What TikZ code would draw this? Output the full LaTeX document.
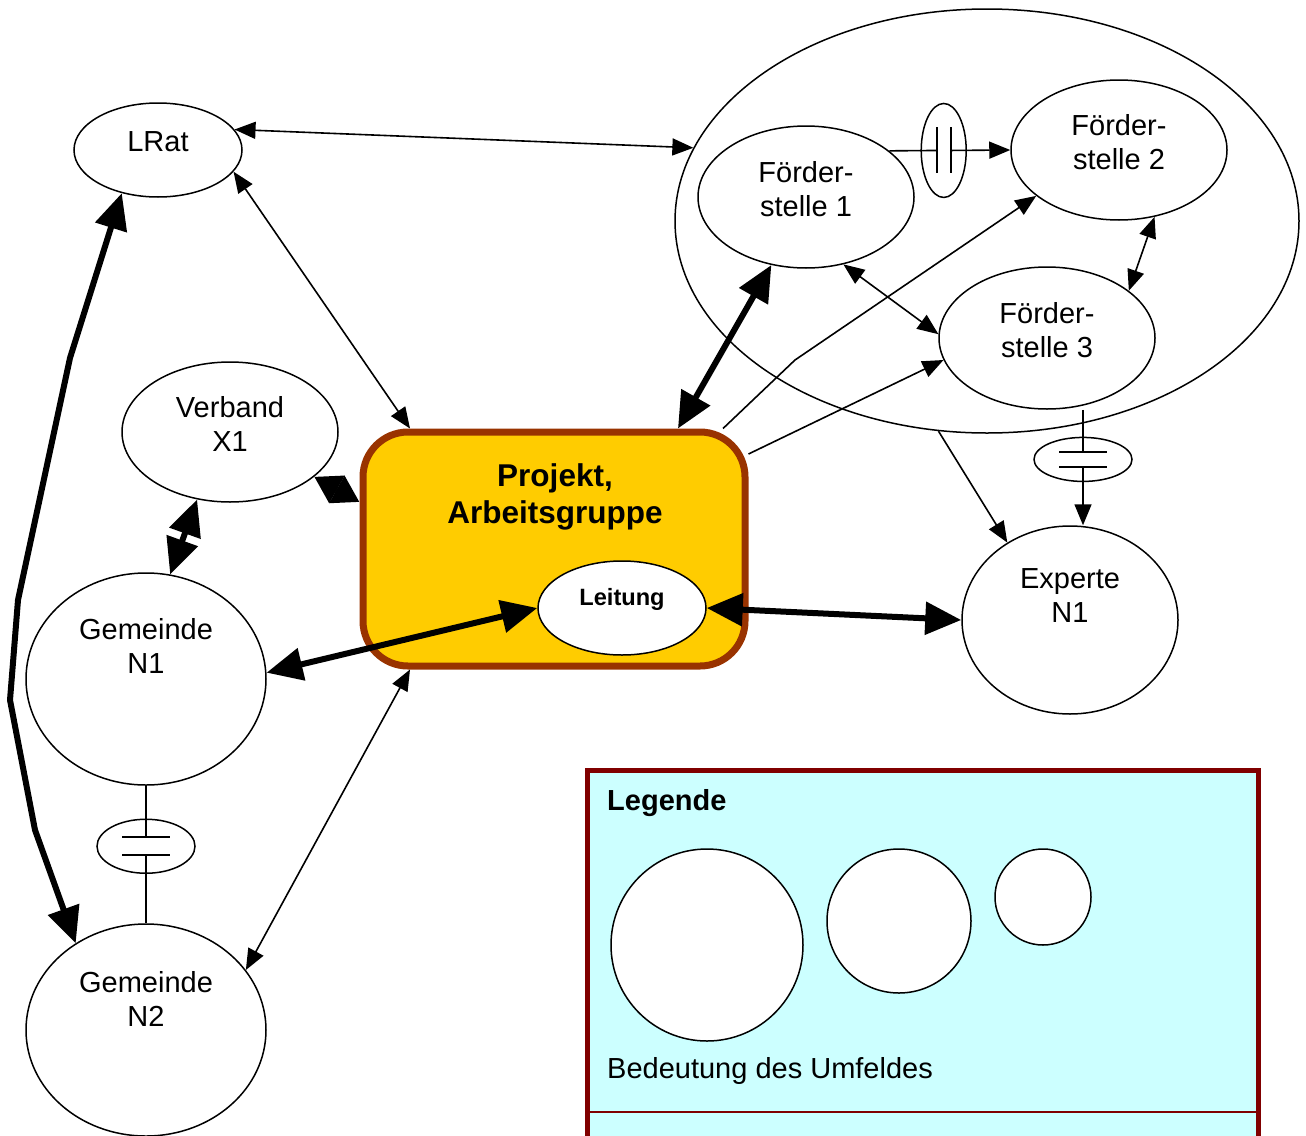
\documentclass[tikz,border=0pt]{standalone}
\usepackage{fontspec}
\setmainfont{Liberation Sans}
\usetikzlibrary{shapes.geometric,arrows.meta,calc}
\definecolor{projfill}{HTML}{FFCC00}
\definecolor{projdraw}{HTML}{993300}
\definecolor{legfill}{HTML}{CCFFFF}
\definecolor{legdraw}{HTML}{800000}
\tikzset{
 tA/.tip={Triangle[length=21pt,width=17pt]},
 tB/.tip={Triangle[length=36pt,width=32pt]},
 tC/.tip={Triangle[length=26pt,width=30pt]},
 ell/.style={ellipse, draw, line width=1.5pt, inner sep=0pt},
 lbl/.style={align=center, font=\fontsize{29}{34}\selectfont, inner sep=0pt},
 lnk/.style={line width=1.6pt},
 fat/.style={line width=6pt},
 cbar/.style={line width=2pt},
}
\begin{document}
\begin{tikzpicture}[x=1pt,y=-1pt]
\useasboundingbox (0,0) rectangle (1306,1135);
% legend
\node[draw=legdraw, line width=5pt, fill=legfill, minimum width=671pt, minimum height=400pt, anchor=north west, inner sep=0pt] (leg) at (585,768) {};
\draw[legdraw, line width=2pt] ([yshift=-344pt]leg.north west) -- ([yshift=-344pt]leg.north east);
\node[anchor=base west, font=\fontsize{29}{34}\selectfont\bfseries, inner sep=0pt] (legt) at ([xshift=22pt,yshift=-42pt]leg.north west) {Legende};
\node[anchor=base west, font=\fontsize{29}{34}\selectfont, inner sep=0pt] (legb) at ([xshift=22pt,yshift=-310pt]leg.north west) {Bedeutung des Umfeldes};
\node[circle, draw, line width=1.5pt, fill=white, minimum size=192pt, inner sep=0pt] (c1) at (707,945) {};
\node[circle, draw, line width=1.5pt, fill=white, minimum size=144pt, inner sep=0pt] (c2) at (899,921) {};
\node[circle, draw, line width=1.5pt, fill=white, minimum size=96pt, inner sep=0pt] (c3) at (1043,897) {};
% nodes
\node[ell, minimum width=624pt, minimum height=424pt] (big) at (987,221) {};
\node[ell, minimum width=168pt, minimum height=94pt] (lrat) at (158,150) {};
\node[lbl] (lratt) at ([yshift=8pt]lrat.center) {LRat};
\node[ell, minimum width=216pt, minimum height=142pt] (f1) at (806,197) {};
\node[lbl] (f1t) at ([yshift=8pt]f1.center) {Förder-\\stelle 1};
\node[ell, minimum width=216pt, minimum height=140pt] (f2) at (1119,150) {};
\node[lbl] (f2t) at ([yshift=8pt]f2.center) {Förder-\\stelle 2};
\node[ell, minimum width=216pt, minimum height=142pt] (f3) at (1047,338) {};
\node[lbl] (f3t) at ([yshift=8pt]f3.center) {Förder-\\stelle 3};
\node[ell, minimum width=216pt, minimum height=140pt] (verb) at (230,432) {};
\node[lbl] (verbt) at ([yshift=8pt]verb.center) {Verband\\X1};
\node[ell, minimum width=240pt, minimum height=212pt] (gem1) at (146,679) {};
\node[lbl] (gem1t) at ([yshift=33pt]gem1.center) {Gemeinde\\N1};
\node[ell, minimum width=240pt, minimum height=212pt] (gem2) at (146,1030) {};
\node[lbl] (gem2t) at ([yshift=31pt]gem2.center) {Gemeinde\\N2};
\node[ell, minimum width=216pt, minimum height=188pt] (exp) at (1070,620) {};
\node[lbl] (expt) at ([yshift=24pt]exp.center) {Experte\\N1};
\node[draw=projdraw, fill=projfill, line width=7pt, rounded corners=45pt, minimum width=382pt, minimum height=234pt, inner sep=0pt] (proj) at (554,549) {};
\node[align=center, font=\fontsize{31.5}{37}\selectfont\bfseries, inner sep=0pt] (projt) at ([xshift=1pt,yshift=52.5pt]proj.center) {Projekt,\\Arbeitsgruppe};
\node[ell, fill=white, minimum width=168pt, minimum height=94pt] (leit) at (622,608) {};
\node[font=\fontsize{23.6}{28}\selectfont\bfseries, inner sep=0pt] (leitt) at ([yshift=8.5pt]leit.center) {Leitung};
% conflict symbols
\node[ell, minimum width=45pt, minimum height=94pt] (k1) at ($(f1.29)!0.45!(f2.west)$) {};
\draw[lnk] (f1.29) -- ([xshift=-7pt]k1.center);
\draw[lnk,-tA] ([xshift=7pt]k1.center) -- (f2.west);
\draw[cbar] ([xshift=-7pt,yshift=23pt]k1.center) -- ([xshift=-7pt,yshift=-23pt]k1.center);
\draw[cbar] ([xshift=7pt,yshift=23pt]k1.center) -- ([xshift=7pt,yshift=-23pt]k1.center);
\node[ell, minimum width=98pt, minimum height=44pt] (k2) at ($([xshift=36pt]f3.south)!0.43!([xshift=13pt]exp.north)$) {};
\draw[lnk] ([xshift=36pt]f3.south) -- ([yshift=7.5pt]k2.center);
\draw[lnk,-tA] ([yshift=-7.5pt]k2.center) -- ([xshift=13pt]exp.north);
\draw[cbar] ([xshift=-24pt,yshift=7.5pt]k2.center) -- ([xshift=24pt,yshift=7.5pt]k2.center);
\draw[cbar] ([xshift=-24pt,yshift=-7.5pt]k2.center) -- ([xshift=24pt,yshift=-7.5pt]k2.center);
\node[ell, minimum width=98pt, minimum height=54pt] (k3) at ($(gem1.south)!0.44!(gem2.north)$) {};
\draw[lnk] (gem1.south) -- ([yshift=9pt]k3.center);
\draw[lnk] ([yshift=-9pt]k3.center) -- (gem2.north);
\draw[cbar] ([xshift=-24pt,yshift=9pt]k3.center) -- ([xshift=24pt,yshift=9pt]k3.center);
\draw[cbar] ([xshift=-24pt,yshift=-9pt]k3.center) -- ([xshift=24pt,yshift=-9pt]k3.center);
% connectors
\draw[lnk,tA-tA] (lrat.15) -- (big.166);
\draw[lnk,tA-tA] (lrat.-16) -- ([xshift=-144pt]proj.north);
\draw[fat,tB-tB,line join=round] (lrat.230) -- (70,358) -- (18,600) -- (10,700) -- (35,830) -- (gem2.129);
\draw[fat,tB-tB] (f1.243) -- ([xshift=124pt]proj.north);
\draw[lnk,tA-tA] (f1.-61) -- (f3.178);
\draw[lnk,-tA] ([xshift=169pt]proj.north) -- (795,360) -- (f2.209);
\draw[lnk,-tA] ([yshift=95pt]proj.east) -- (f3.192);
\draw[lnk,tA-tA] (f2.-62) -- (f3.30);
\draw[lnk,-tA] (big.257) -- (exp.129);
\draw[fat,tB-tB] (leit.east) -- (exp.west);
\draw[fat,tB-tB] (leit.west) -- (gem1.3);
\draw[lnk,tA-tA] ([xshift=-144pt]proj.south) -- (gem2.31);
\draw[fat,tB-tB] (verb.244) -- (gem1.77);
\coordinate (vpmid) at ($(verb.-28)!0.5!([yshift=47pt]proj.west)$);
\draw[fat,-tC] (vpmid) -- (verb.-28);
\draw[fat,-tC] (vpmid) -- ([yshift=47pt]proj.west);
\end{tikzpicture}
\end{document}
